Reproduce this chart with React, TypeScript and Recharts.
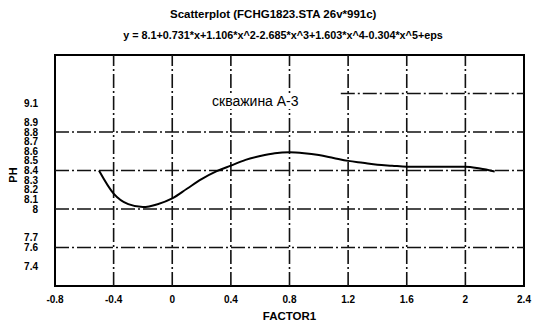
import React from "react";
import {
  LineChart,
  Line,
  XAxis,
  YAxis,
  ReferenceLine,
  ReferenceArea,
  Label,
} from "recharts";

// fitted curve (FACTOR1 -> PH)
const factor1 = [
  -0.5, -0.4, -0.3, -0.2, -0.1, 0, 0.1, 0.2, 0.3, 0.4, 0.5, 0.6, 0.7, 0.8, 0.9,
  1.0, 1.1, 1.2, 1.3, 1.4, 1.5, 1.6, 1.7, 1.8, 1.9, 2.0, 2.1, 2.2,
];
const ph = [
  8.4, 8.16, 8.05, 8.02, 8.05, 8.11, 8.21, 8.31, 8.39, 8.45, 8.51, 8.55, 8.58,
  8.59, 8.58, 8.56, 8.53, 8.5, 8.48, 8.46, 8.45, 8.44, 8.44, 8.44, 8.44, 8.44,
  8.42, 8.39,
];

const xTicks = [-0.8, -0.4, 0, 0.4, 0.8, 1.2, 1.6, 2, 2.4];
const yTicks = [7.4, 7.6, 7.7, 8, 8.1, 8.2, 8.3, 8.4, 8.5, 8.6, 8.7, 8.8, 8.9, 9.1];
const xGrid = [-0.4, 0, 0.4, 0.8, 1.2, 1.6, 2];
const yGrid = [7.6, 8, 8.4, 8.8];

const data = factor1.map((x, i) => ({ x, y: ph[i] }));

const font = "'Liberation Sans', Arial, sans-serif";
const gridStyle = { stroke: "#111", strokeWidth: 1.6, strokeDasharray: "14 3 2 3" };

export default function App() {
  return (
    <div style={{ position: "absolute", left: 0, top: 0, width: 533, height: 328, background: "#fff", fontFamily: font }}>
      <LineChart
        width={533}
        height={328}
        data={data}
        margin={{ top: 55, right: 9, left: 0, bottom: 0 }}
        style={{ fontFamily: font }}
      >
        <XAxis
          dataKey="x"
          type="number"
          domain={[-0.8, 2.4]}
          ticks={xTicks}
          allowDataOverflow
          height={42}
          axisLine={false}
          tickLine={false}
          tick={{ fill: "#000", fontSize: 10, fontWeight: 700 }}
          tickMargin={4}
        >
          <Label value="FACTOR1" position="insideBottom" offset={8} fill="#000" fontSize={11.5} fontWeight={700} />
        </XAxis>
        <YAxis
          type="number"
          domain={[7.2, 9.6]}
          ticks={yTicks}
          interval={0}
          allowDataOverflow
          width={55}
          axisLine={false}
          tickLine={false}
          tick={{ fill: "#000", fontSize: 10, fontWeight: 700 }}
          tickMargin={11}
        />
        {xGrid.map((v) => (
          <ReferenceLine key={"x" + v} x={v} {...gridStyle} />
        ))}
        {yGrid.map((v) => (
          <ReferenceLine key={"y" + v} y={v} {...gridStyle} />
        ))}
        <ReferenceLine segment={[{ x: 1.15, y: 9.2 }, { x: 2.4, y: 9.2 }]} {...gridStyle} />
        <ReferenceArea x1={-0.8} x2={2.4} y1={7.2} y2={9.6} fill="none" stroke="#000" strokeWidth={2} />
        <Line
          type="monotone"
          dataKey="y"
          stroke="#000"
          strokeWidth={2}
          dot={false}
          isAnimationActive={false}
        />
      </LineChart>
      <div style={{ position: "absolute", left: 170, width: 200, top: 8, textAlign: "center", fontSize: 11.5, fontWeight: 700, whiteSpace: "nowrap" }}>
        Scatterplot (FCHG1823.STA 26v*991c)
      </div>
      <div style={{ position: "absolute", left: 83, width: 400, top: 29, textAlign: "center", fontSize: 10.8, fontWeight: 700, whiteSpace: "nowrap" }}>
        y = 8.1+0.731*x+1.106*x^2-2.685*x^3+1.603*x^4-0.304*x^5+eps
      </div>
      <div style={{ position: "absolute", left: 209, top: 93, fontSize: 14, background: "#fff", padding: "0 3px" }}>скважина А-3</div>
      <div style={{ position: "absolute", left: 3, top: 169, width: 20, textAlign: "center", fontSize: 11, fontWeight: 700, transform: "rotate(-90deg)" }}>PH</div>
    </div>
  );
}
